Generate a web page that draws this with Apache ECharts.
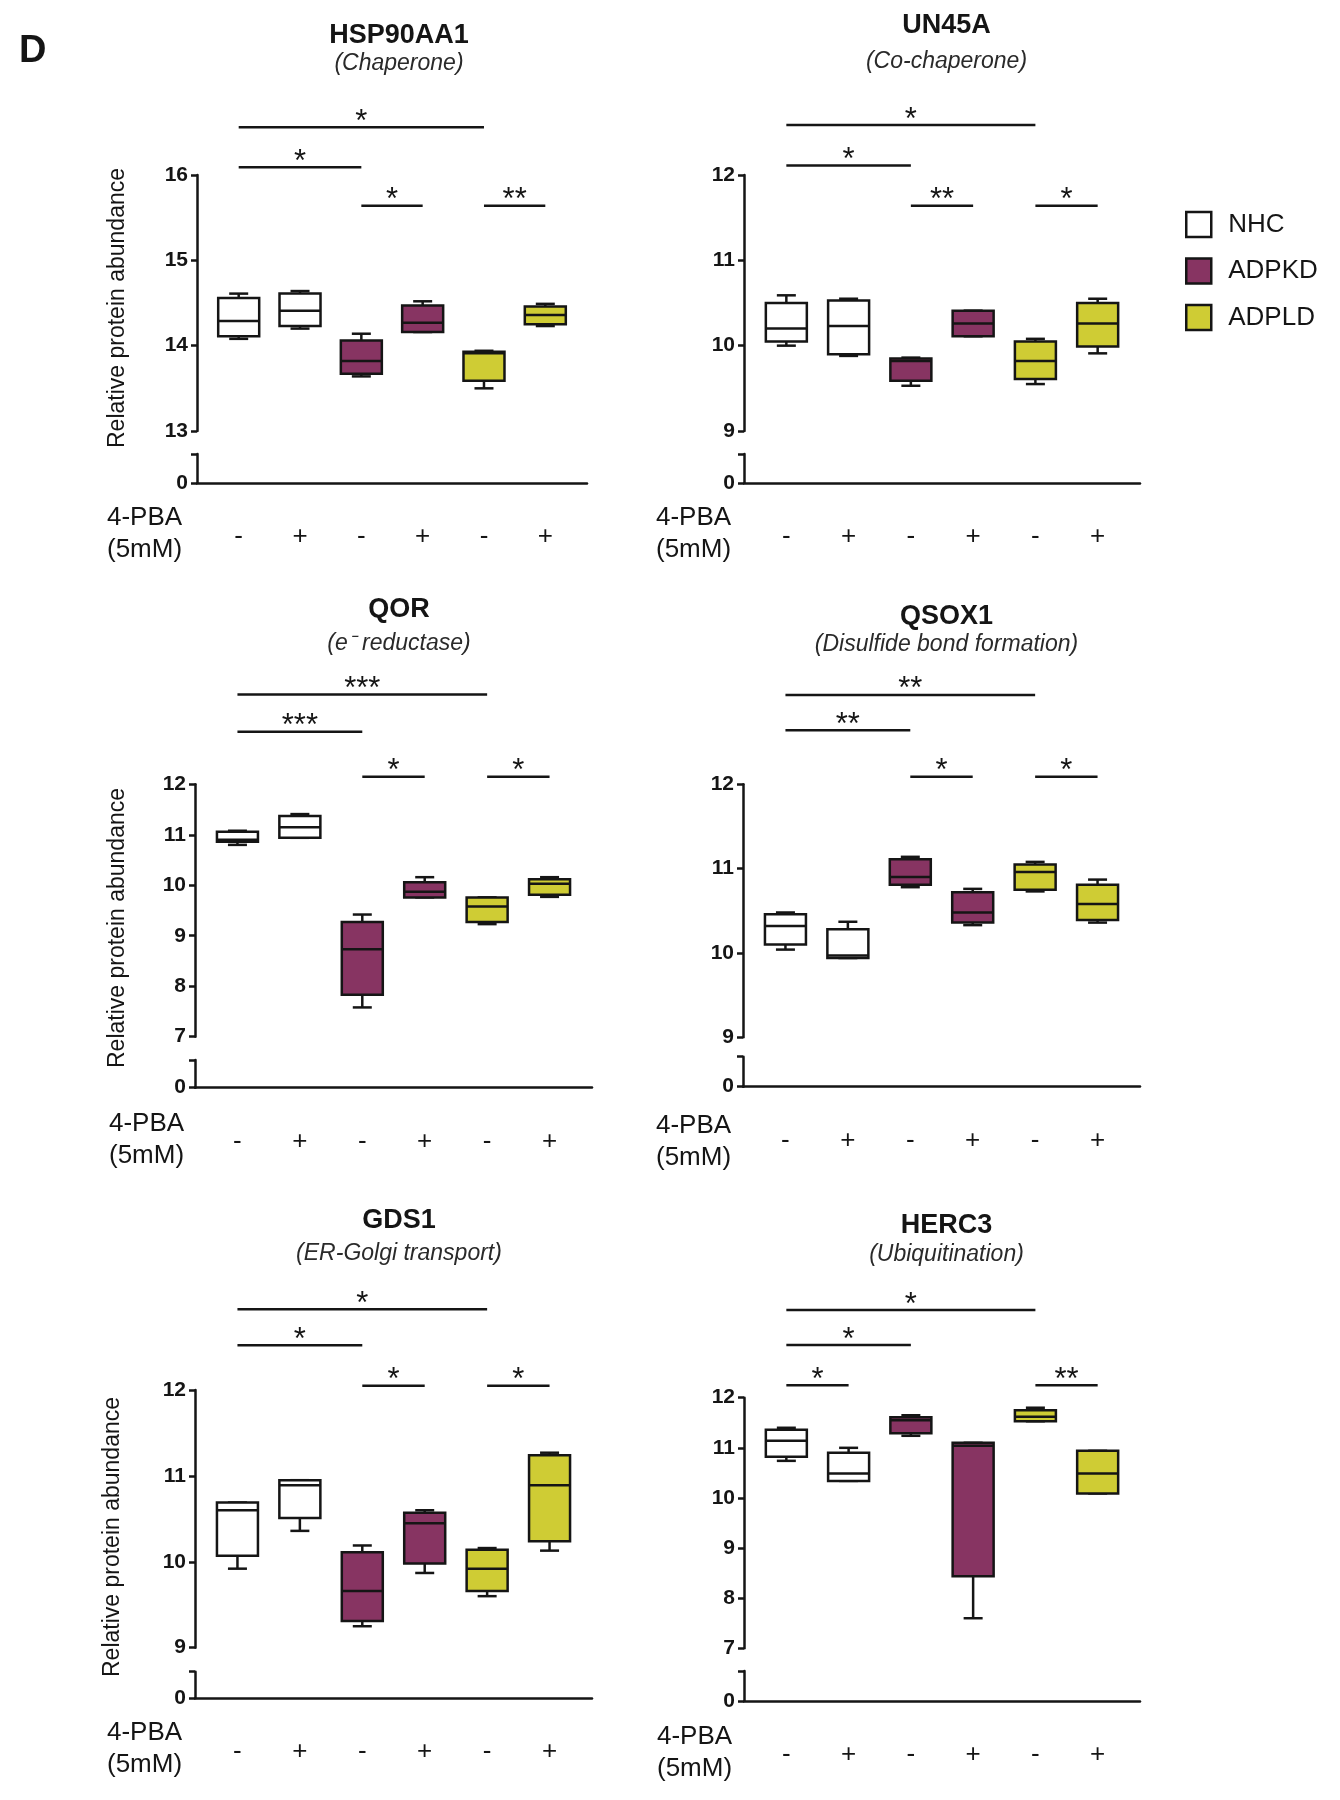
<!DOCTYPE html>
<html><head><meta charset="utf-8">
<script src="https://cdn.jsdelivr.net/npm/echarts@6/dist/echarts.min.js"></script>
<style>html,body{margin:0;padding:0;background:#fff;}#chart{width:1340px;height:1800px;}</style>
</head><body><div id="chart"></div>
<script>
// ---------------- DATA ----------------
const groups = ['NHC', 'ADPKD', 'ADPLD'];
const treatmentLabels = ['-', '+', '-', '+', '-', '+'];
const panelGenes = ['HSP90AA1', 'UN45A', 'QOR', 'QSOX1', 'GDS1', 'HERC3'];
const panelRoles = ['(Chaperone)', '(Co-chaperone)', '(e\u207B reductase)', '(Disulfide bond formation)', '(ER-Golgi transport)', '(Ubiquitination)'];
const yRanges = [[13, 16], [9, 12], [7, 12], [9, 12], [9, 12], [7, 12]];

// box stats [min, Q1, median, Q3, max] : NHC-, NHC+, ADPKD-, ADPKD+, ADPLD-, ADPLD+
const hsp90aa1 = [
  [14.08, 14.11, 14.29, 14.56, 14.61],
  [14.20, 14.23, 14.41, 14.61, 14.64],
  [13.64, 13.67, 13.82, 14.06, 14.14],
  [14.16, 14.16, 14.27, 14.47, 14.52],
  [13.50, 13.59, 13.91, 13.93, 13.94],
  [14.23, 14.25, 14.36, 14.46, 14.49]
];
const un45a = [
  [10.00, 10.05, 10.20, 10.50, 10.59],
  [9.88, 9.90, 10.23, 10.53, 10.55],
  [9.53, 9.59, 9.82, 9.85, 9.86],
  [10.11, 10.11, 10.26, 10.41, 10.41],
  [9.55, 9.61, 9.82, 10.05, 10.08],
  [9.91, 9.99, 10.26, 10.50, 10.55]
];
const qor = [
  [10.80, 10.86, 10.90, 11.06, 11.08],
  [10.94, 10.94, 11.15, 11.37, 11.41],
  [7.58, 7.83, 8.73, 9.27, 9.42],
  [9.76, 9.76, 9.87, 10.06, 10.16],
  [9.23, 9.27, 9.58, 9.76, 9.76],
  [9.77, 9.81, 10.03, 10.12, 10.16]
];
const qsox1 = [
  [10.04, 10.10, 10.32, 10.46, 10.48],
  [9.94, 9.94, 9.97, 10.28, 10.37],
  [10.78, 10.81, 10.90, 11.11, 11.14],
  [10.33, 10.36, 10.48, 10.72, 10.76],
  [10.73, 10.75, 10.96, 11.05, 11.08],
  [10.36, 10.39, 10.58, 10.81, 10.87]
];
const gds1 = [
  [9.92, 10.07, 10.60, 10.69, 10.69],
  [10.36, 10.51, 10.89, 10.95, 10.95],
  [9.25, 9.31, 9.66, 10.11, 10.19],
  [9.87, 9.98, 10.45, 10.57, 10.60],
  [9.60, 9.66, 9.92, 10.14, 10.16],
  [10.13, 10.24, 10.89, 11.24, 11.27]
];
const herc3 = [
  [10.74, 10.82, 11.14, 11.36, 11.40],
  [10.34, 10.34, 10.49, 10.90, 11.00],
  [11.24, 11.29, 11.55, 11.61, 11.65],
  [7.60, 8.44, 11.04, 11.10, 11.10],
  [11.53, 11.53, 11.62, 11.75, 11.80],
  [10.09, 10.09, 10.49, 10.94, 10.94]
];

// significance brackets [fromBox, toBox, height (axis units), stars]
const hsp90aa1Sig = [[0, 4, 16.56, '*'], [0, 2, 16.09, '*'], [2, 3, 15.64, '*'], [4, 5, 15.64, '**']];
const un45aSig = [[0, 4, 12.585, '*'], [0, 2, 12.11, '*'], [2, 3, 11.64, '**'], [4, 5, 11.64, '*']];
const qorSig = [[0, 4, 13.78, '***'], [0, 2, 13.04, '***'], [2, 3, 12.15, '*'], [4, 5, 12.15, '*']];
const qsox1Sig = [[0, 4, 13.06, '**'], [0, 2, 12.64, '**'], [2, 3, 12.09, '*'], [4, 5, 12.09, '*']];
const gds1Sig = [[0, 4, 12.94, '*'], [0, 2, 12.52, '*'], [2, 3, 12.05, '*'], [4, 5, 12.05, '*']];
const herc3Sig = [[0, 4, 13.75, '*'], [0, 2, 13.05, '*'], [0, 1, 12.25, '*'], [4, 5, 12.25, '**']];

const panelStats = [hsp90aa1, un45a, qor, qsox1, gds1, herc3];
const panelSig = [hsp90aa1Sig, un45aSig, qorSig, qsox1Sig, gds1Sig, herc3Sig];

// ---------------- STYLE / LAYOUT ----------------
const FONT = '"Liberation Sans", Arial, Helvetica, sans-serif';
const INK = '#151515';
const LINE_W = 2.5;
const BOX_WIDTH = 41;
const CAP_WIDTH = 19;
const STAR_SIZE = 31;
const groupColors = ['#ffffff', '#873462', '#cfcc34'];
const X_MIN = -0.68, X_MAX = 5.68;

const layouts = [
  {left: 197, right: 587, top: 175, bottom: 431, bTop: 454, zero: 483, tx: 394, ty: 35.5, sy: 63.5, pbaX: 107, pbaY: 534, yname: [118, 308]},
  {left: 744, right: 1140, top: 175, bottom: 431, bTop: 454, zero: 483, tx: 941.5, ty: 26, sy: 61.5, pbaX: 656, pbaY: 534},
  {left: 195, right: 592, top: 784.3, bottom: 1036.7, bTop: 1060, zero: 1087.7, tx: 394, ty: 609.5, sy: 643.5, pbaX: 109, pbaY: 1139.5, yname: [118, 928]},
  {left: 743, right: 1140, top: 784.3, bottom: 1037.3, bTop: 1056.7, zero: 1086.7, tx: 941.5, ty: 616.5, sy: 644.5, pbaX: 656, pbaY: 1142},
  {left: 195, right: 592, top: 1390, bottom: 1647.7, bTop: 1671.7, zero: 1698.3, tx: 394, ty: 1220.5, sy: 1253.5, pbaX: 107, pbaY: 1749, yname: [113, 1537]},
  {left: 744, right: 1140, top: 1397.7, bottom: 1648.3, bTop: 1671, zero: 1701, tx: 941.5, ty: 1226, sy: 1255, pbaX: 657, pbaY: 1752.5}
];

function ls() { return {stroke: INK, lineWidth: LINE_W}; }

function renderBox(params, api) {
  const x = api.value(0);
  const c = v => api.coord([x, v]);
  const pMin = c(api.value(1)), pQ1 = c(api.value(2)), pMed = c(api.value(3)), pQ3 = c(api.value(4)), pMax = c(api.value(5));
  const cx = pMed[0], hw = BOX_WIDTH / 2, hc = CAP_WIDTH / 2;
  return {type: 'group', children: [
    {type: 'line', shape: {x1: cx, y1: pMax[1], x2: cx, y2: pQ3[1]}, style: ls()},
    {type: 'line', shape: {x1: cx - hc, y1: pMax[1], x2: cx + hc, y2: pMax[1]}, style: ls()},
    {type: 'line', shape: {x1: cx, y1: pQ1[1], x2: cx, y2: pMin[1]}, style: ls()},
    {type: 'line', shape: {x1: cx - hc, y1: pMin[1], x2: cx + hc, y2: pMin[1]}, style: ls()},
    {type: 'rect', shape: {x: cx - hw, y: pQ3[1], width: 2 * hw, height: pQ1[1] - pQ3[1]},
      style: {fill: api.visual('color'), stroke: INK, lineWidth: LINE_W}},
    {type: 'line', shape: {x1: cx - hw, y1: pMed[1], x2: cx + hw, y2: pMed[1]}, style: ls()}
  ]};
}

function makeBracketRenderer(sig) {
  return function (params, api) {
    const s = sig[params.dataIndex];
    const a = api.coord([s[0], s[2]]), b = api.coord([s[1], s[2]]);
    return {type: 'group', children: [
      {type: 'line', shape: {x1: a[0], y1: a[1], x2: b[0], y2: b[1]}, style: ls()},
      {type: 'text', x: (a[0] + b[0]) / 2, y: a[1] - 5,
        style: {text: s[3], align: 'center', verticalAlign: 'middle', fontSize: STAR_SIZE, fontFamily: FONT, fill: INK}}
    ]};
  };
}

const grid = [], xAxis = [], yAxis = [], series = [], title = [];
const graphic = [
  {type: 'text', x: 19, y: 52, style: {text: 'D', fontSize: 38, fontWeight: 'bold', fontFamily: FONT, fill: INK, align: 'left', verticalAlign: 'middle'}}
];

layouts.forEach((L, p) => {
  const width = L.right - L.left;
  grid.push({left: L.left, top: L.top, width: width, height: L.bottom - L.top, show: false, outerBoundsMode: 'none'});
  grid.push({left: L.left, top: L.bTop, width: width, height: L.zero - L.bTop, show: false, outerBoundsMode: 'none'});

  xAxis.push({gridIndex: 2 * p, type: 'value', min: X_MIN, max: X_MAX, show: false});
  xAxis.push({gridIndex: 2 * p + 1, type: 'value', min: X_MIN, max: X_MAX,
    axisLine: {show: true, onZero: false, lineStyle: {color: INK, width: LINE_W}},
    axisTick: {show: false}, splitLine: {show: false},
    axisLabel: {customValues: [0, 1, 2, 3, 4, 5], formatter: v => treatmentLabels[Math.round(v)],
      fontSize: 26, fontFamily: FONT, color: INK, margin: 41}});

  yAxis.push({gridIndex: 2 * p, type: 'value', min: yRanges[p][0], max: yRanges[p][1], interval: 1,
    axisLine: {show: true, onZero: false, lineStyle: {color: INK, width: LINE_W}},
    axisTick: {show: true, length: 6, lineStyle: {color: INK, width: LINE_W}},
    splitLine: {show: false},
    axisLabel: {fontSize: 21, fontWeight: 'bold', fontFamily: FONT, color: INK, margin: 9}});
  yAxis.push({gridIndex: 2 * p + 1, type: 'value', min: 0, max: 1, interval: 1,
    axisLine: {show: true, onZero: false, lineStyle: {color: INK, width: LINE_W}},
    axisTick: {show: true, length: 6, lineStyle: {color: INK, width: LINE_W}},
    splitLine: {show: false},
    axisLabel: {formatter: v => (v === 0 ? '0' : ''), fontSize: 21, fontWeight: 'bold', fontFamily: FONT, color: INK, margin: 9}});

  const stats = panelStats[p];
  groups.forEach((g, gi) => {
    series.push({type: 'custom', name: g, xAxisIndex: 2 * p, yAxisIndex: 2 * p,
      itemStyle: {color: groupColors[gi]}, renderItem: renderBox, z: 3,
      data: [2 * gi, 2 * gi + 1].map(i => [i].concat(stats[i]))});
  });
  const sig = panelSig[p];
  series.push({type: 'custom', xAxisIndex: 2 * p, yAxisIndex: 2 * p, silent: true, z: 2,
    renderItem: makeBracketRenderer(sig), data: sig.map(s => [s[0], s[1], s[2]])});

  title.push({text: panelGenes[p], subtext: panelRoles[p], left: L.tx, top: L.ty - 19, textAlign: 'center',
    itemGap: L.sy - L.ty - 27, padding: 5,
    textStyle: {fontSize: 27, fontWeight: 'bold', color: INK, fontFamily: FONT, lineHeight: 28},
    subtextStyle: {fontSize: 23, fontStyle: 'italic', color: '#2a2a2a', fontFamily: FONT, lineHeight: 26}});

  graphic.push({type: 'text', x: L.pbaX, y: L.pbaY,
    style: {text: '4-PBA\n(5mM)', fontSize: 26, lineHeight: 32, fontFamily: FONT, fill: INK, align: 'left', verticalAlign: 'middle'}});
  if (L.yname) {
    graphic.push({type: 'text', x: L.yname[0], y: L.yname[1], rotation: Math.PI / 2,
      style: {text: 'Relative protein abundance', fontSize: 23, fontFamily: FONT, fill: INK, align: 'center', verticalAlign: 'middle'}});
  }
});

const chart = echarts.init(document.getElementById('chart'), null, {renderer: 'canvas'});
chart.setOption({
  animation: false,
  backgroundColor: '#ffffff',
  title: title,
  grid: grid,
  xAxis: xAxis,
  yAxis: yAxis,
  legend: {
    orient: 'vertical', left: 1180, top: 205.7, padding: 5,
    itemWidth: 25, itemHeight: 25, itemGap: 19,
    textStyle: {fontSize: 26, fontFamily: FONT, color: INK, lineHeight: 25, padding: [0, 0, 0, 12]},
    data: groups.map((g, gi) => ({name: g, icon: 'rect',
      itemStyle: {color: groupColors[gi], borderColor: INK, borderWidth: 2.5}}))
  },
  graphic: graphic,
  series: series
});
</script>
</body></html>
